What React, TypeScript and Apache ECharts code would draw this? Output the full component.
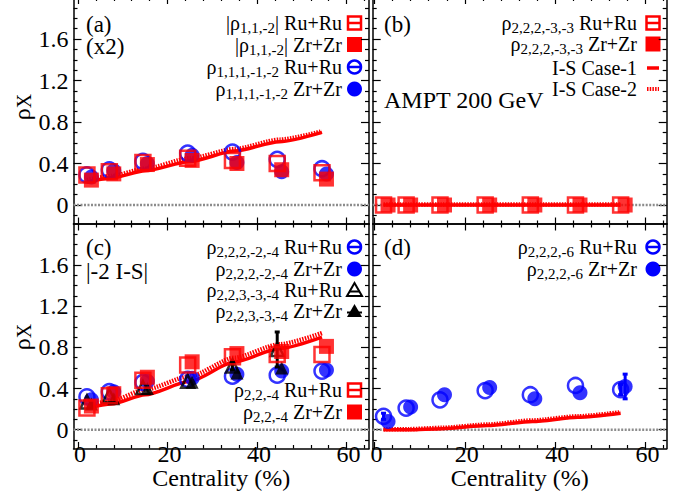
import React, { useEffect, useRef } from 'react';
import * as echarts from 'echarts';

const FONT = "'Liberation Serif', 'Times New Roman', serif";

// centrality positions (Ru+Ru slightly left, Zr+Zr slightly right of bin center)
const xRu = [2, 7, 14.5, 24.5, 34.5, 44.5, 54.5];
const xZr = [3, 8, 15.5, 25.5, 35.5, 45.5, 55.5];
const xModel = [2, 7.5, 15, 25, 35, 45, 54.5];

// tick values
const X_MAJOR = [0, 20, 40, 60];
const X_MINOR = [4, 8, 12, 16, 24, 28, 32, 36, 44, 48, 52, 56, 64];
const Y_MAJOR = [0, 0.4, 0.8, 1.2, 1.6];
const Y_MINOR = [-0.1, 0.1, 0.2, 0.3, 0.5, 0.6, 0.7, 0.9, 1.0, 1.1, 1.3, 1.4, 1.5, 1.7, 1.8, 1.9];

// panel (a)
const a_r112_Ru = [0.29, 0.32, 0.41, 0.45, 0.43, 0.40, 0.31];
const a_r112_Zr = [0.24, 0.30, 0.39, 0.43, 0.40, 0.34, 0.25];
const a_r11112_Ru = [0.29, 0.34, 0.42, 0.50, 0.51, 0.44, 0.35];
const a_r11112_Zr = [0.27, 0.33, 0.40, 0.48, 0.41, 0.32, 0.30];
const a_IS1 = [0.22, 0.26, 0.33, 0.42, 0.52, 0.61, 0.70];
const a_IS2 = [0.24, 0.28, 0.35, 0.45, 0.54, 0.63, 0.71];

// panel (b)
const b_r22233_Ru = [0, 0, 0, 0, 0, 0, 0];
const b_r22233_Zr = [0, 0, 0, 0, 0, 0, 0];
const b_IS1 = [0, 0, 0, 0, 0, 0, 0];
const b_IS2 = [0.005, 0.005, 0.005, 0.005, 0.005, 0.005, 0.005];

// panel (c)
const c_r22224_Ru = [0.32, 0.37, 0.46, 0.49, 0.52, 0.53, 0.57];
const c_r22224_Zr = [0.29, 0.37, 0.47, 0.50, 0.54, 0.57, 0.58];
const c_r22334_Ru = [0.27, 0.33, 0.41, 0.47, 0.62, 0.78, null];
const c_r22334_Zr = [0.25, 0.30, 0.40, 0.46, 0.55, 0.60, null];
const c_r22334_Ru_err = [0, 0, 0, 0, 0.04, 0.17, 0];
const c_r224_Ru = [0.21, 0.33, 0.48, 0.63, 0.71, 0.73, 0.73];
const c_r224_Zr = [0.23, 0.35, 0.51, 0.66, 0.74, 0.76, 0.81];
const c_IS1 = [0.21, 0.25, 0.34, 0.47, 0.66, 0.79, 0.90];
const c_IS2 = [0.23, 0.28, 0.39, 0.52, 0.70, 0.83, 0.94];

// panel (d)
const d_r2226_Ru = [0.13, 0.21, 0.29, 0.38, 0.34, 0.43, 0.39];
const d_r2226_Zr = [0.08, 0.22, 0.34, 0.41, 0.30, 0.36, 0.42];
const d_r2226_Ru_err = [0.03, 0, 0, 0, 0, 0, 0.05];
const d_r2226_Zr_err = [0, 0, 0, 0, 0, 0, 0.12];
const d_IS1 = [0.0, 0.0, 0.01, 0.04, 0.08, 0.12, 0.16];
const d_IS2 = [0.005, 0.005, 0.018, 0.05, 0.09, 0.13, 0.17];

const RED = '#ff0000';
const BLUE = '#0000ff';
const BLACK = '#000000';

const X_RANGE = [[-1, 65], [-0.4, 64.7], [-1, 65], [-0.4, 64.7]];
const Y_RANGE = [-0.183, 2.0];

function axis(gridIndex: number, position: string, min: number, max: number, ticks: number[], len: number, line: boolean, labels: boolean, extra: any = {}) {
  return {
    type: 'value',
    gridIndex,
    position,
    min,
    max,
    axisLine: { show: line, onZero: false, lineStyle: { color: '#000', width: 1.5 } },
    axisTick: { show: true, inside: true, length: len, customValues: ticks, lineStyle: { color: '#000', width: 1.2 } },
    axisLabel: labels
      ? {
          show: true,
          customValues: ticks,
          fontFamily: FONT,
          fontSize: 24,
          color: '#000',
          margin: position === 'left' ? 5 : -7,
          padding: position === 'bottom' ? [0, 0, 0, 4] : 0,
        }
      : { show: false },
    splitLine: { show: false },
    minorTick: { show: false },
    ...extra,
  };
}

function buildAxes() {
  const xAxis: any[] = [];
  const yAxis: any[] = [];
  for (let g = 0; g < 4; g++) {
    const [xmin, xmax] = X_RANGE[g];
    const bottomLabels = g >= 2;
    const nameExtra = bottomLabels
      ? {
          name: 'Centrality (%)',
          nameLocation: 'middle',
          nameGap: 6,
          nameTextStyle: { fontFamily: FONT, fontSize: 24, color: '#000' },
        }
      : {};
    xAxis.push(axis(g, 'bottom', xmin, xmax, X_MAJOR, 6.5, true, bottomLabels, nameExtra));
    xAxis.push(axis(g, 'bottom', xmin, xmax, X_MINOR, 3.5, false, false));
    xAxis.push(axis(g, 'top', xmin, xmax, X_MAJOR, 6.5, true, false));
    xAxis.push(axis(g, 'top', xmin, xmax, X_MINOR, 3.5, false, false));
    const leftLabels = g === 0 || g === 2;
    yAxis.push(axis(g, 'left', Y_RANGE[0], Y_RANGE[1], Y_MAJOR, 8, true, leftLabels));
    yAxis.push(axis(g, 'left', Y_RANGE[0], Y_RANGE[1], Y_MINOR, 4, false, false));
    yAxis.push(axis(g, 'right', Y_RANGE[0], Y_RANGE[1], Y_MAJOR, 8, true, false));
    yAxis.push(axis(g, 'right', Y_RANGE[0], Y_RANGE[1], Y_MINOR, 4, false, false));
  }
  return { xAxis, yAxis };
}

function pts(xs: number[], ys: (number | null)[]) {
  const out: number[][] = [];
  ys.forEach((y, i) => {
    if (y !== null && y !== undefined) out.push([xs[i], y]);
  });
  return out;
}

function scatter(g: number, xs: number[], ys: (number | null)[], symbol: string, color: string, open: boolean, size: number, z: number) {
  return {
    type: 'scatter',
    xAxisIndex: g * 4,
    yAxisIndex: g * 4,
    data: pts(xs, ys),
    symbol,
    symbolSize: size,
    z,
    silent: true,
    itemStyle: open
      ? { color: 'rgba(0,0,0,0)', borderColor: color, borderWidth: 2.5 }
      : { color, borderWidth: 0 },
  };
}

function modelLine(g: number, ys: number[], dotted: boolean) {
  return {
    type: 'line',
    xAxisIndex: g * 4,
    yAxisIndex: g * 4,
    data: pts(xModel, ys),
    symbol: 'none',
    smooth: 0.25,
    smoothMonotone: 'x',
    silent: true,
    z: 2,
    lineStyle: dotted
      ? { color: RED, width: 4.5, type: [1.5, 1.2] }
      : { color: RED, width: 3.5, type: 'solid' },
  };
}

function zeroLine(g: number) {
  return {
    type: 'line',
    xAxisIndex: g * 4,
    yAxisIndex: g * 4,
    data: [[X_RANGE[g][0], 0], [X_RANGE[g][1], 0]],
    symbol: 'none',
    silent: true,
    z: 1,
    lineStyle: { color: '#8c8c8c', width: 2.5, type: [2, 1.5] },
  };
}

function errBars(g: number, xs: number[], ys: (number | null)[], errs: number[], color: string, z: number) {
  const data: number[][] = [];
  ys.forEach((y, i) => {
    if (y !== null && errs[i] > 0) data.push([xs[i], y - errs[i], y + errs[i]]);
  });
  return {
    type: 'custom',
    xAxisIndex: g * 4,
    yAxisIndex: g * 4,
    data,
    z,
    silent: true,
    renderItem: (params: any, api: any) => {
      const lo = api.coord([api.value(0), api.value(1)]);
      const hi = api.coord([api.value(0), api.value(2)]);
      const st = { stroke: color, lineWidth: 3 };
      return {
        type: 'group',
        children: [
          { type: 'line', shape: { x1: lo[0], y1: lo[1], x2: hi[0], y2: hi[1] }, style: st },
          { type: 'line', shape: { x1: lo[0] - 2.5, y1: lo[1], x2: lo[0] + 2.5, y2: lo[1] }, style: st },
          { type: 'line', shape: { x1: hi[0] - 2.5, y1: hi[1], x2: hi[0] + 2.5, y2: hi[1] }, style: st },
        ],
      };
    },
  };
}

// ---------- graphic helpers (legend / annotations) ----------
const RICH = {
  m: { fontSize: 20, fontFamily: FONT, fill: '#000' },
  s: { fontSize: 15, fontFamily: FONT, fill: '#000', padding: [10, 0, 0, 0] },
};

function legText(xr: number, y: number, text: string) {
  return {
    type: 'text',
    x: xr,
    y,
    silent: true,
    style: { text, rich: RICH, align: 'right', verticalAlign: 'middle', fontFamily: FONT, fontSize: 20, fill: '#000' },
  };
}

function plainText(x: number, y: number, text: string, size = 23) {
  return {
    type: 'text',
    x,
    y,
    silent: true,
    style: { text, fontFamily: FONT, fontSize: size, fill: '#000', align: 'left', verticalAlign: 'middle' },
  };
}

function hline(cx: number, cy: number, half: number, color: string, w = 2.5, dash?: number[]) {
  return {
    type: 'line',
    silent: true,
    shape: { x1: cx - half, y1: cy, x2: cx + half, y2: cy },
    style: { stroke: color, lineWidth: w, lineDash: dash },
  };
}

function openSquare(cx: number, cy: number, c: string) {
  return [
    { type: 'rect', silent: true, shape: { x: cx - 6.5, y: cy - 6.5, width: 13, height: 13 }, style: { fill: '#fff', stroke: c, lineWidth: 2.5 } },
    hline(cx, cy, 6.5, c),
  ];
}
function fillSquare(cx: number, cy: number, c: string) {
  return [{ type: 'rect', silent: true, shape: { x: cx - 7.5, y: cy - 7.5, width: 15, height: 15 }, style: { fill: c } }];
}
function openCircle(cx: number, cy: number, c: string) {
  return [
    { type: 'circle', silent: true, shape: { cx, cy, r: 6.5 }, style: { fill: '#fff', stroke: c, lineWidth: 2.5 } },
    hline(cx, cy, 6.5, c),
  ];
}
function fillCircle(cx: number, cy: number, c: string) {
  return [{ type: 'circle', silent: true, shape: { cx, cy, r: 7.5 }, style: { fill: c } }];
}
function openTri(cx: number, cy: number, c: string) {
  return [
    { type: 'polygon', silent: true, shape: { points: [[cx, cy - 7], [cx - 7.5, cy + 6], [cx + 7.5, cy + 6]] }, style: { fill: '#fff', stroke: c, lineWidth: 2 } },
    hline(cx, cy + 1.5, 5, c, 2),
  ];
}
function fillTri(cx: number, cy: number, c: string) {
  return [
    { type: 'polygon', silent: true, shape: { points: [[cx, cy - 7], [cx - 7.5, cy + 6], [cx + 7.5, cy + 6]] }, style: { fill: c } },
    hline(cx, cy + 1.5, 7.5, c, 2),
  ];
}

function yTitle(cx: number, cy: number) {
  return {
    type: 'text',
    x: cx,
    y: cy,
    rotation: Math.PI / 2,
    silent: true,
    style: {
      text: '{g|ρ}{x|X}',
      align: 'center',
      verticalAlign: 'middle',
      rich: {
        g: { fontSize: 24, fontFamily: FONT, fill: '#000' },
        x: { fontSize: 20, fontFamily: FONT, fill: '#000', padding: [4, 0, 0, 0] },
      },
    },
  };
}

function buildGraphics() {
  const L = 342; // left panels legend text right edge
  const R = 637; // right panels
  const ML = 354.5; // left marker x
  const MR = 653; // right marker x
  const els: any[] = [];
  // panel labels
  els.push(plainText(86, 24, '(a)'));
  els.push(plainText(86, 46, '(x2)'));
  els.push(plainText(384, 24, '(b)'));
  els.push(plainText(384, 100, 'AMPT 200 GeV', 24));
  els.push(plainText(86, 247, '(c)'));
  els.push(plainText(86, 271, '|-2 I-S|'));
  els.push(plainText(384, 247, '(d)'));
  // y titles
  els.push(yTitle(22, 107));
  els.push(yTitle(22, 337));

  // legend (a)
  els.push(legText(L, 23, '{m||ρ}{s|1,1,-2}{m|| Ru+Ru}'));
  els.push(...openSquare(ML, 23, RED));
  els.push(legText(L, 44.5, '{m||ρ}{s|1,1,-2}{m|| Zr+Zr}'));
  els.push(...fillSquare(ML, 44.5, RED));
  els.push(legText(L, 67, '{m|ρ}{s|1,1,1,-1,-2}{m| Ru+Ru}'));
  els.push(...openCircle(ML, 67, BLUE));
  els.push(legText(L, 89, '{m|ρ}{s|1,1,1,-1,-2}{m| Zr+Zr}'));
  els.push(...fillCircle(ML, 89, BLUE));

  // legend (b)
  els.push(legText(R, 23, '{m|ρ}{s|2,2,2,-3,-3}{m| Ru+Ru}'));
  els.push(...openSquare(MR, 23, RED));
  els.push(legText(R, 44, '{m|ρ}{s|2,2,2,-3,-3}{m| Zr+Zr}'));
  els.push(...fillSquare(MR, 44, RED));
  els.push(legText(R, 68, '{m|I-S Case-1}'));
  els.push(hline(MR, 68, 6, RED, 3.5));
  els.push(legText(R, 89, '{m|I-S Case-2}'));
  els.push(hline(MR, 89, 6, RED, 4, [1.5, 1.2]));

  // legend (c)
  els.push(legText(L, 247, '{m|ρ}{s|2,2,2,-2,-4}{m| Ru+Ru}'));
  els.push(...openCircle(ML, 247, BLUE));
  els.push(legText(L, 269, '{m|ρ}{s|2,2,2,-2,-4}{m| Zr+Zr}'));
  els.push(...fillCircle(ML, 269, BLUE));
  els.push(legText(L, 290, '{m|ρ}{s|2,2,3,-3,-4}{m| Ru+Ru}'));
  els.push(...openTri(ML, 290, BLACK));
  els.push(legText(L, 311, '{m|ρ}{s|2,2,3,-3,-4}{m| Zr+Zr}'));
  els.push(...fillTri(ML, 311, BLACK));
  els.push(legText(L, 390, '{m|ρ}{s|2,2,-4}{m| Ru+Ru}'));
  els.push(...openSquare(ML, 390, RED));
  els.push(legText(L, 412, '{m|ρ}{s|2,2,-4}{m| Zr+Zr}'));
  els.push(...fillSquare(ML, 412, RED));

  // legend (d)
  els.push(legText(R, 247, '{m|ρ}{s|2,2,2,-6}{m| Ru+Ru}'));
  els.push(...openCircle(MR, 247, BLUE));
  els.push(legText(R, 269, '{m|ρ}{s|2,2,2,-6}{m| Zr+Zr}'));
  els.push(...fillCircle(MR, 269, BLUE));
  return els;
}

function buildSeries() {
  const s: any[] = [];
  for (let g = 0; g < 4; g++) s.push(zeroLine(g));
  // (a)
  s.push(modelLine(0, a_IS1, false), modelLine(0, a_IS2, true));
  s.push(scatter(0, xRu, a_r11112_Ru, 'circle', BLUE, true, 15, 3));
  s.push(scatter(0, xZr, a_r11112_Zr, 'circle', BLUE, false, 15, 3));
  s.push(scatter(0, xRu, a_r112_Ru, 'rect', RED, true, 15, 3));
  s.push(scatter(0, xZr, a_r112_Zr, 'rect', RED, false, 15, 3));
  // (b)
  s.push(modelLine(1, b_IS1, false), modelLine(1, b_IS2, true));
  s.push(scatter(1, xRu, b_r22233_Ru, 'rect', RED, true, 15, 3));
  s.push(scatter(1, xZr, b_r22233_Zr, 'rect', RED, false, 15, 3));
  // (c)
  s.push(modelLine(2, c_IS1, false), modelLine(2, c_IS2, true));
  s.push(scatter(2, xRu, c_r22224_Ru, 'circle', BLUE, true, 15, 3));
  s.push(scatter(2, xZr, c_r22224_Zr, 'circle', BLUE, false, 15, 3));
  s.push(errBars(2, xRu, c_r22334_Ru, c_r22334_Ru_err, BLACK, 4));
  s.push(scatter(2, xRu, c_r22334_Ru, 'triangle', BLACK, true, 13, 4));
  s.push(scatter(2, xZr, c_r22334_Zr, 'triangle', BLACK, false, 13, 4));
  s.push(scatter(2, xRu, c_r224_Ru, 'rect', RED, true, 15, 5));
  s.push(scatter(2, xZr, c_r224_Zr, 'rect', RED, false, 15, 5));
  // (d)
  s.push(modelLine(3, d_IS1, false), modelLine(3, d_IS2, true));
  s.push(errBars(3, xRu, d_r2226_Ru, d_r2226_Ru_err, BLUE, 3));
  s.push(errBars(3, xZr, d_r2226_Zr, d_r2226_Zr_err, BLUE, 3));
  s.push(scatter(3, xRu, d_r2226_Ru, 'circle', BLUE, true, 15, 3));
  s.push(scatter(3, xZr, d_r2226_Zr, 'circle', BLUE, false, 15, 3));
  return s;
}

export default function App() {
  const ref = useRef<HTMLDivElement>(null);
  useEffect(() => {
    if (!ref.current) return;
    const chart = echarts.init(ref.current, null, { renderer: 'svg' });
    const { xAxis, yAxis } = buildAxes();
    const gridBase = { containLabel: false, outerBoundsMode: 'none', show: false };
    chart.setOption({
      animation: false,
      backgroundColor: '#ffffff',
      textStyle: { fontFamily: FONT },
      grid: [
        { ...gridBase, left: 73.5, top: -2.5, width: 295.5, height: 226.5 },
        { ...gridBase, left: 372.7, top: -2.5, width: 294, height: 226.5 },
        { ...gridBase, left: 73.5, top: 224, width: 295.5, height: 224.5 },
        { ...gridBase, left: 372.7, top: 224, width: 294, height: 224.5 },
      ],
      xAxis,
      yAxis,
      series: buildSeries(),
      graphic: buildGraphics(),
    });
    return () => chart.dispose();
  }, []);
  return (
    <div
      ref={ref}
      style={{ position: 'absolute', left: 0, top: 0, width: 696, height: 495, background: '#fff' }}
    />
  );
}
